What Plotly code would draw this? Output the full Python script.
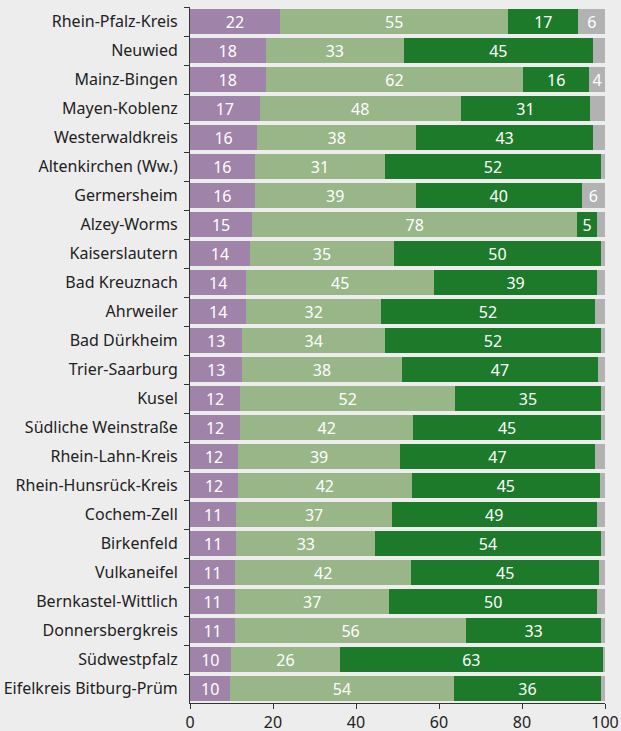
import plotly.graph_objects as go

regions = [
    "Rhein-Pfalz-Kreis", "Neuwied", "Mainz-Bingen", "Mayen-Koblenz",
    "Westerwaldkreis", "Altenkirchen (Ww.)", "Germersheim", "Alzey-Worms",
    "Kaiserslautern", "Bad Kreuznach", "Ahrweiler", "Bad Dürkheim",
    "Trier-Saarburg", "Kusel", "Südliche Weinstraße", "Rhein-Lahn-Kreis",
    "Rhein-Hunsrück-Kreis", "Cochem-Zell", "Birkenfeld", "Vulkaneifel",
    "Bernkastel-Wittlich", "Donnersbergkreis", "Südwestpfalz",
    "Eifelkreis Bitburg-Prüm",
]

seg_purple = [21.7, 18.2, 18.2, 16.8, 16.2, 15.6, 15.6, 15.0, 14.4, 13.6, 13.6, 12.6,
              12.6, 12.1, 12.1, 11.6, 11.6, 11.2, 11.2, 10.9, 10.9, 10.9, 9.8, 9.7]
seg_lightgreen = [55.0, 33.4, 62.1, 48.4, 38.3, 31.4, 38.8, 78.3, 34.8, 45.2, 32.4, 34.4,
                  38.4, 51.8, 41.7, 39.0, 41.8, 37.4, 33.4, 42.4, 37.1, 55.6, 26.4, 53.8]
seg_darkgreen = [16.9, 45.4, 15.9, 31.3, 42.6, 52.0, 40.0, 4.8, 49.8, 39.3, 51.6, 52.0,
                 47.4, 35.1, 45.2, 47.0, 45.4, 49.4, 54.4, 45.3, 50.1, 32.6, 63.2, 35.6]
seg_gray = [6.4, 3.0, 3.8, 3.5, 2.9, 1.0, 5.6, 1.9, 1.0, 1.9, 2.4, 1.0,
            1.6, 1.0, 1.0, 2.4, 1.2, 2.0, 1.0, 1.4, 1.9, 0.9, 0.6, 0.9]

x_ticks = [0, 20, 40, 60, 80, 100]

LABEL_MIN = 3.6

def labels(vals):
    return [str(int(v + 0.5)) if v >= LABEL_MIN else "" for v in vals]

series = [
    ("Segment 1", seg_purple, "#A083A9"),
    ("Segment 2", seg_lightgreen, "#98B687"),
    ("Segment 3", seg_darkgreen, "#1C7A2A"),
    ("Segment 4", seg_gray, "#B2B2B2"),
]

FONT = "Noto Sans"
BG = "#EDEDED"

fig = go.Figure()
for name, vals, color in series:
    fig.add_trace(go.Bar(
        y=regions, x=vals, name=name, orientation="h",
        marker=dict(color=color, line=dict(width=0)),
        text=labels(vals), textposition="inside", insidetextanchor="middle",
        textangle=0, constraintext="none",
        textfont=dict(color="white", size=16, family=FONT),
        showlegend=False,
    ))

fig.update_layout(
    barmode="stack",
    bargap=0.14,
    width=621, height=731,
    margin=dict(l=190, r=16, t=7, b=28),
    paper_bgcolor=BG,
    plot_bgcolor=BG,
    font=dict(family=FONT, size=16, color="#222222"),
    xaxis=dict(
        range=[0, 100], tickvals=x_ticks, showgrid=False, zeroline=False,
        showline=True, linecolor="#333333", linewidth=1,
        ticks="outside", ticklen=5, tickcolor="#333333",
        tickfont=dict(size=16, family=FONT, color="#222222"),
        automargin=False, fixedrange=True,
    ),
    yaxis=dict(
        categoryorder="array", categoryarray=regions, autorange="reversed",
        showgrid=False, zeroline=False,
        showline=True, linecolor="#333333", linewidth=1,
        ticks="outside", ticklen=5, tickcolor="#333333", tickson="boundaries",
        ticklabelstandoff=8,
        tickfont=dict(size=16, family=FONT, color="#222222"),
        automargin=False, fixedrange=True,
    ),
)

fig.write_html(
    "out.html",
    config={"displayModeBar": False},
    post_script="document.body.style.margin='0';document.body.style.background='%s';" % BG,
)
